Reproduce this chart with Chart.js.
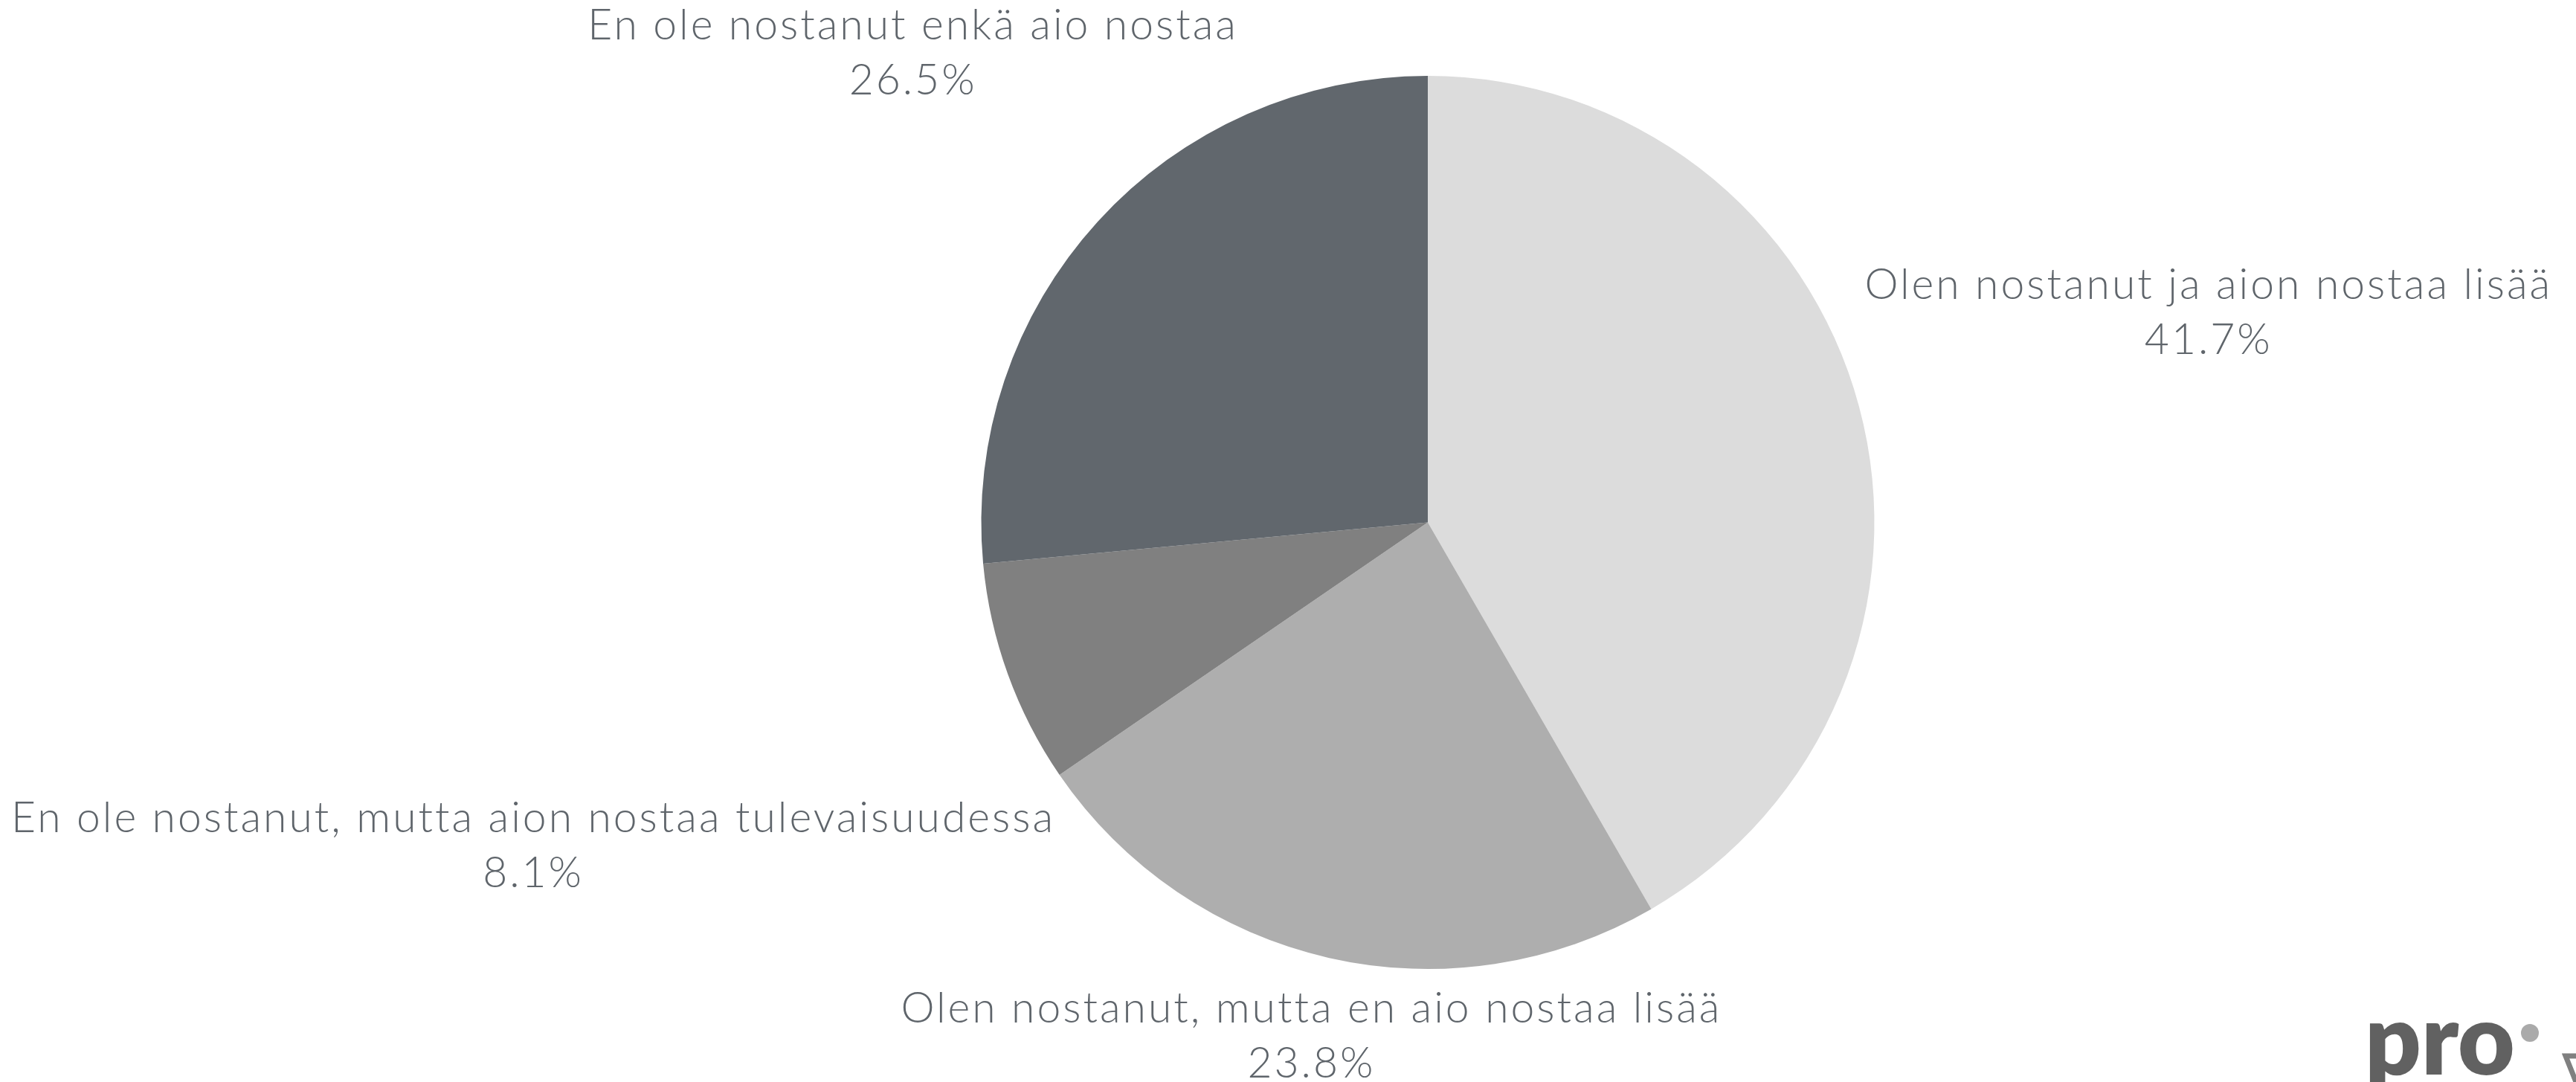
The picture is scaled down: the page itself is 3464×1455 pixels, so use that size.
<!DOCTYPE html>
<html lang="fi">
<head>
    <meta charset="UTF-8">
    <title>Nostaminen</title>
    <script src="https://cdn.jsdelivr.net/npm/chart.js"></script>
    <style>
        html, body { margin: 0; padding: 0; background: #fff; }
        canvas { display: block; }
    </style>
</head>
<body>
    <canvas id="pieChart" width="3464" height="1455"></canvas>

    <script>
        const categories = [
            'Olen nostanut ja aion nostaa lisää',
            'Olen nostanut, mutta en aio nostaa lisää',
            'En ole nostanut, mutta aion nostaa tulevaisuudessa',
            'En ole nostanut enkä aio nostaa'
        ];
        const shares = [41.7, 23.8, 8.1, 26.5];
        const sliceColors = ['#dcdcdc', '#aeaeae', '#808080', '#61676d'];
        // how far out each label sits, in pie radii along the slice middle
        const labelDistance = [1.81, 1.18, 2.13, 1.56];

        const textColor = '#5f656b';
        const labelFont = '300 57px Lato, "Open Sans", sans-serif';

        const outsideLabels = {
            id: 'outsideLabels',
            afterDatasetsDraw(chart) {
                const ctx = chart.ctx;
                const meta = chart.getDatasetMeta(0);
                ctx.save();
                ctx.fillStyle = textColor;
                ctx.font = labelFont;
                ctx.letterSpacing = '3px';
                ctx.textAlign = 'center';
                ctx.textBaseline = 'middle';
                meta.data.forEach((arc, i) => {
                    const p = arc.getProps(['x', 'y', 'startAngle', 'endAngle', 'outerRadius'], true);
                    const mid = (p.startAngle + p.endAngle) / 2;
                    const r = p.outerRadius * labelDistance[i];
                    const cx = p.x + Math.cos(mid) * r;
                    const cy = p.y + Math.sin(mid) * r;
                    ctx.fillText(categories[i], cx, cy - 37);
                    ctx.fillText(shares[i].toFixed(1) + '%', cx, cy + 37);
                });
                ctx.restore();
            }
        };

        // small "pro" mark in the bottom right corner
        const logo = {
            id: 'logo',
            afterDraw(chart) {
                const ctx = chart.ctx;
                ctx.save();
                ctx.fillStyle = '#616161';
                ctx.font = '800 132px Lato, "Open Sans", sans-serif';
                ctx.textAlign = 'left';
                ctx.textBaseline = 'alphabetic';
                ctx.fillText('pro', 3180, 1445);
                ctx.fillStyle = '#aaaaaa';
                ctx.beginPath();
                ctx.arc(3402, 1389, 12, 0, Math.PI * 2);
                ctx.fill();
                ctx.strokeStyle = '#808080';
                ctx.lineWidth = 7;
                ctx.beginPath();
                ctx.moveTo(3450, 1420);
                ctx.lineTo(3490, 1420);
                ctx.lineTo(3470, 1470);
                ctx.closePath();
                ctx.stroke();
                ctx.restore();
            }
        };

        new Chart(document.getElementById('pieChart').getContext('2d'), {
            type: 'pie',
            data: {
                labels: categories,
                datasets: [{
                    data: shares,
                    backgroundColor: sliceColors,
                    borderWidth: 0
                }]
            },
            options: {
                responsive: false,
                animation: false,
                layout: {
                    padding: { top: 102, bottom: 152, left: 376, right: 0 }
                },
                plugins: {
                    legend: { display: false },
                    tooltip: { enabled: false }
                }
            },
            plugins: [outsideLabels, logo]
        });
    </script>
</body>
</html>
